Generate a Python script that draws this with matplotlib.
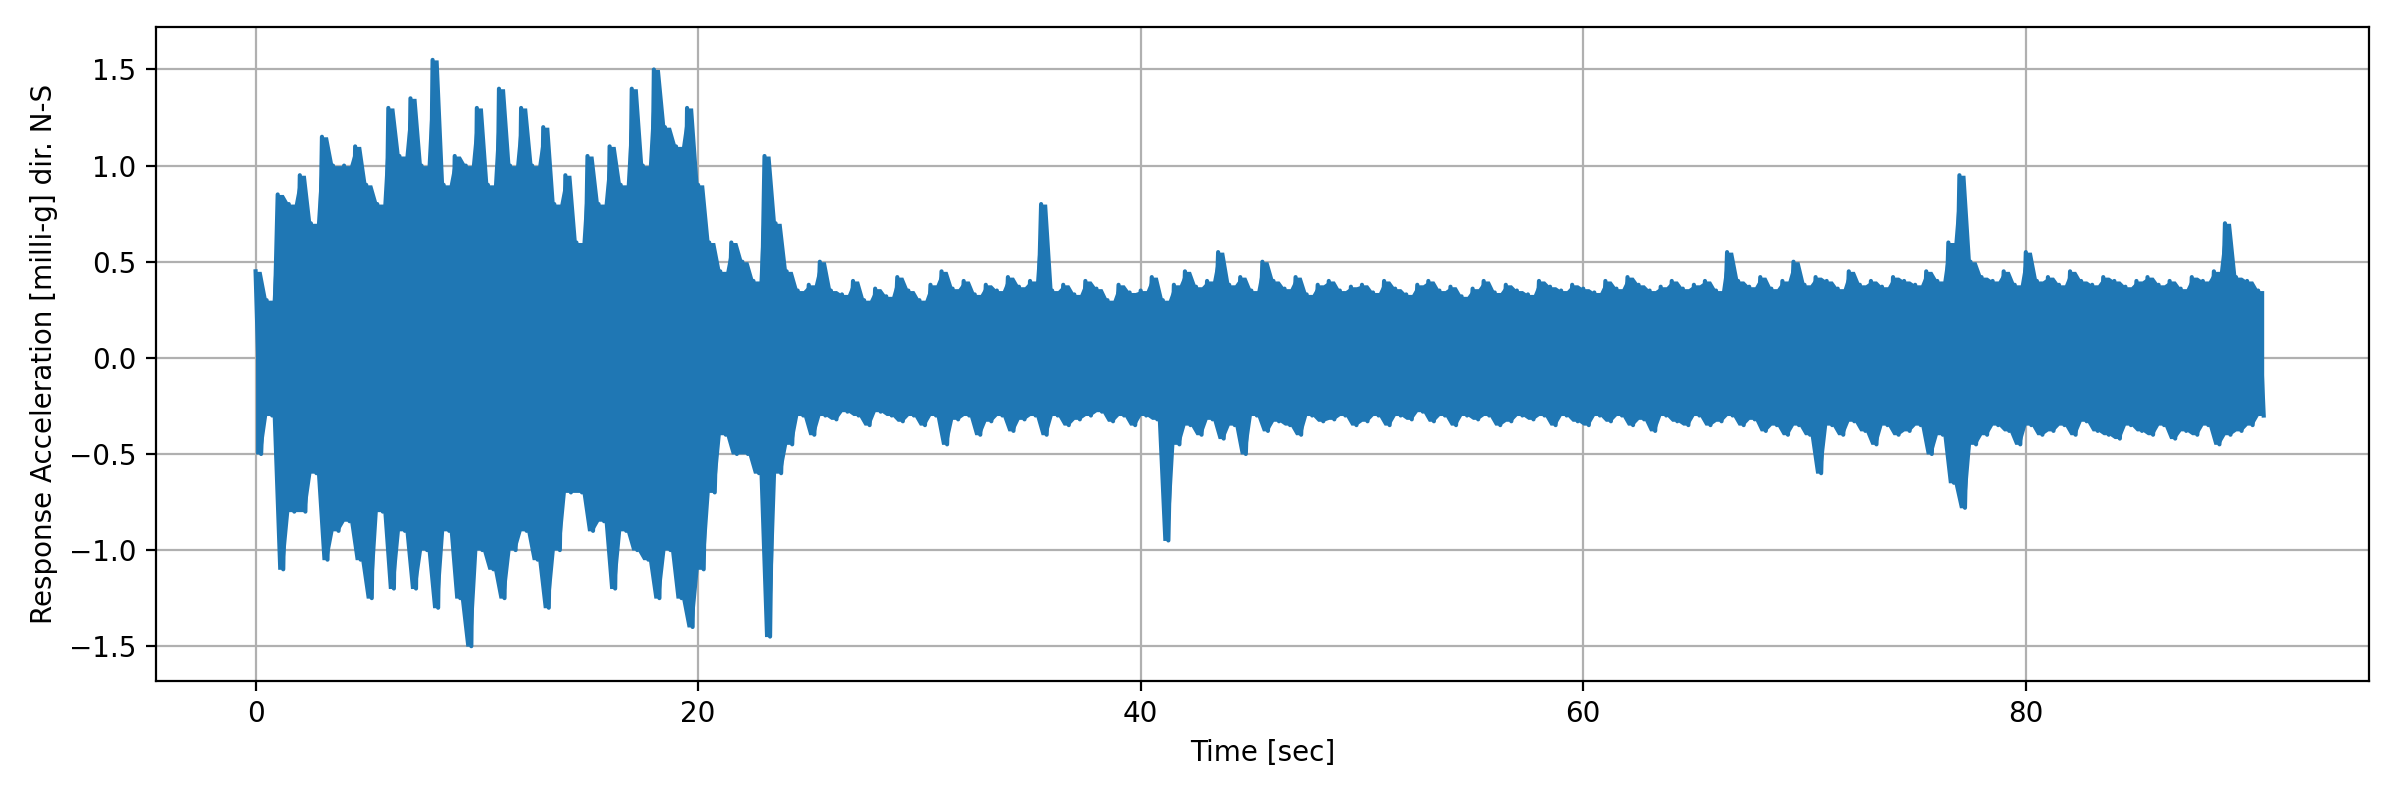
import matplotlib
matplotlib.use("Agg")
import matplotlib.pyplot as plt
import numpy as np

# half-second envelope peaks
hi_early = [0.45,0.3, 0.85,0.8, 0.95,0.7, 1.15,1.0, 1.0,1.1, 0.9,0.8, 1.3,1.05, 1.35,1.0,
            1.55,0.9, 1.05,1.0, 1.3,0.9, 1.4,1.0, 1.3,1.0, 1.2,0.8, 0.95,0.6, 1.05,0.8,
            1.1,0.9, 1.4,1.0, 1.5,1.2, 1.1,1.3, 0.9,0.6, 0.45,0.6, 0.5,0.4, 1.05,0.7, 0.45,0.35]
lo_early = [-0.5,-0.3, -1.1,-0.8, -0.8,-0.6, -1.05,-0.9, -0.85,-1.05, -1.25,-0.8, -1.2,-0.9, -1.2,-1.0,
            -1.3,-0.9, -1.25,-1.5, -1.0,-1.1, -1.25,-1.0, -0.9,-1.05, -1.3,-1.0, -0.7,-0.7, -0.9,-0.85,
            -1.2,-0.9, -1.0,-1.05, -1.25,-1.0, -1.25,-1.4, -1.1,-0.7, -0.4,-0.5, -0.5,-0.6, -1.45,-0.6, -0.45,-0.3]
hi_late = [0.38,0.5,0.35,0.33,0.4,0.3,0.36,0.32,0.42,0.35,
           0.3,0.38,0.45,0.36,0.4,0.33,0.38,0.35,0.42,0.37,
           0.4,0.8,0.35,0.38,0.33,0.4,0.36,0.3,0.38,0.34,
           0.35,0.42,0.3,0.38,0.45,0.37,0.4,0.55,0.38,0.42,
           0.35,0.5,0.4,0.36,0.42,0.33,0.38,0.4,0.35,0.37,
           0.38,0.34,0.4,0.36,0.33,0.38,0.4,0.35,0.37,0.32,
           0.36,0.4,0.34,0.38,0.35,0.33,0.4,0.37,0.35,0.38,
           0.36,0.34,0.4,0.36,0.42,0.38,0.35,0.37,0.4,0.36,
           0.38,0.4,0.35,0.55,0.4,0.37,0.42,0.36,0.4,0.5,
           0.38,0.42,0.4,0.36,0.45,0.38,0.4,0.37,0.42,0.4,
           0.38,0.45,0.4,0.6,0.95,0.5,0.42,0.4,0.45,0.38,
           0.55,0.4,0.42,0.38,0.45,0.4,0.38,0.42,0.4,0.37,
           0.4,0.42,0.38,0.4,0.36,0.42,0.4,0.45,0.7,0.42,
           0.4,0.35]
lo_late = [-0.4,-0.3,-0.32,-0.28,-0.3,-0.35,-0.28,-0.3,-0.33,-0.3,
           -0.35,-0.3,-0.45,-0.32,-0.3,-0.4,-0.33,-0.3,-0.38,-0.32,
           -0.3,-0.4,-0.3,-0.35,-0.32,-0.3,-0.28,-0.33,-0.3,-0.35,
           -0.3,-0.32,-0.95,-0.45,-0.35,-0.4,-0.32,-0.42,-0.35,-0.5,
           -0.3,-0.38,-0.33,-0.35,-0.4,-0.3,-0.33,-0.32,-0.3,-0.35,
           -0.33,-0.3,-0.35,-0.3,-0.32,-0.28,-0.33,-0.3,-0.35,-0.3,
           -0.32,-0.3,-0.35,-0.33,-0.3,-0.32,-0.3,-0.35,-0.3,-0.33,
           -0.35,-0.3,-0.33,-0.3,-0.35,-0.32,-0.38,-0.3,-0.33,-0.35,
           -0.3,-0.35,-0.33,-0.3,-0.35,-0.32,-0.38,-0.35,-0.4,-0.35,
           -0.4,-0.6,-0.35,-0.4,-0.33,-0.38,-0.45,-0.35,-0.4,-0.38,
           -0.35,-0.5,-0.4,-0.65,-0.78,-0.45,-0.4,-0.35,-0.38,-0.45,
           -0.35,-0.4,-0.38,-0.35,-0.4,-0.33,-0.38,-0.4,-0.42,-0.35,
           -0.38,-0.4,-0.35,-0.42,-0.38,-0.4,-0.35,-0.45,-0.4,-0.38,
           -0.35,-0.3]

hi = hi_early + hi_late
lo = lo_early + lo_late
bin_start = [0.5 * i for i in range(len(hi))]

t, y = [], []
for s, h, l in zip(bin_start, hi, lo):
    t += [s, s + 0.25]
    y += [h, l]

color = "#1f77b4"
fig = plt.figure(figsize=(12, 4), dpi=200)
ax = fig.add_axes([0.065, 0.149, 0.922, 0.817])
ax.fill_between(t, [l for l in lo for _ in (0, 1)], [h for h in hi for _ in (0, 1)],
                color=color, lw=0, zorder=2)
ax.plot(t, y, color=color, lw=1.5, zorder=2)
ax.set_xlim(-4.5, 95.5)
ax.set_ylim(-1.68, 1.72)
ax.set_yticks([-1.5, -1.0, -0.5, 0.0, 0.5, 1.0, 1.5])
ax.grid(True, zorder=0)
ax.set_axisbelow(True)
ax.set_xlabel("Time [sec]")
ax.set_ylabel("Response Acceleration [milli-g] dir. N-S")
fig.savefig("out.png")
